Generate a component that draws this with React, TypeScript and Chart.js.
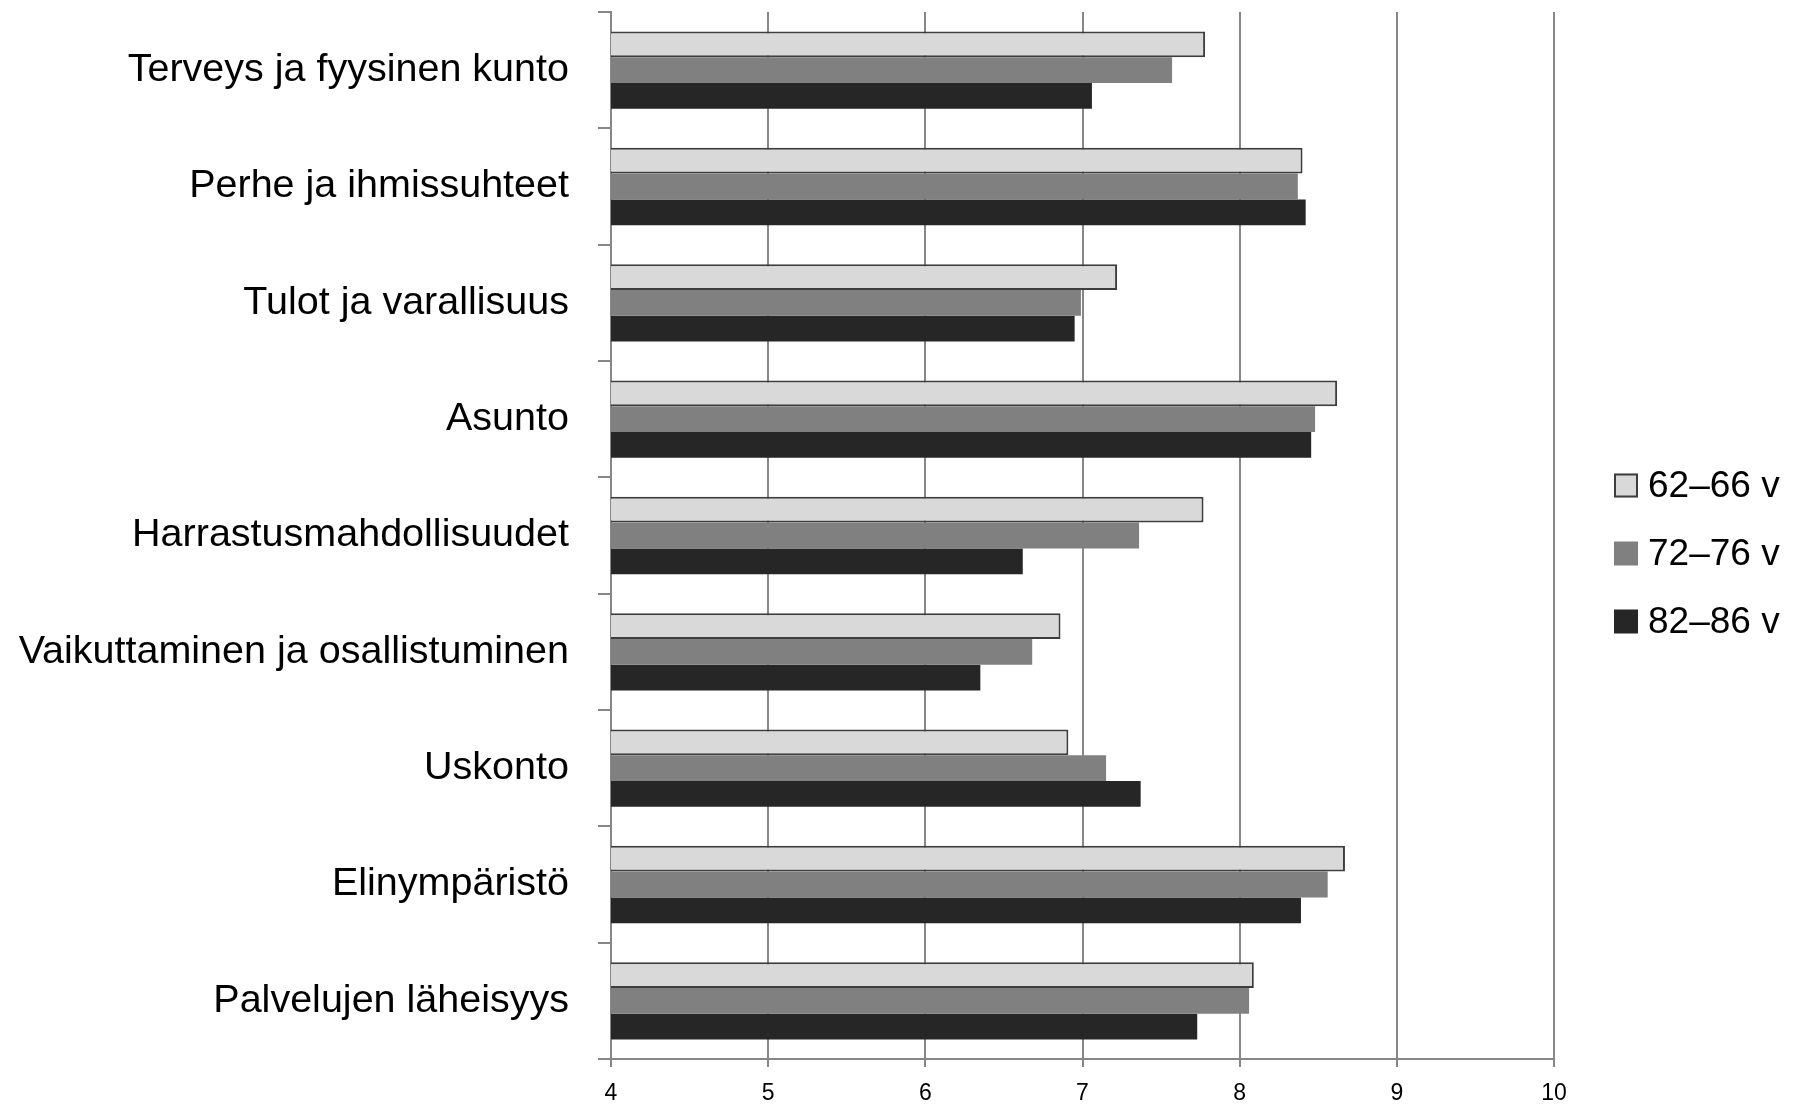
import React, { useEffect, useRef } from "react";
import { Chart, registerables } from "chart.js";

Chart.register(...registerables);

const categories = [
  "Terveys ja fyysinen kunto",
  "Perhe ja ihmissuhteet",
  "Tulot ja varallisuus",
  "Asunto",
  "Harrastusmahdollisuudet",
  "Vaikuttaminen ja osallistuminen",
  "Uskonto",
  "Elinympäristö",
  "Palvelujen läheisyys",
];

const seriesLabels = ["62–66 v", "72–76 v", "82–86 v"];

const values6266 = [7.78, 8.4, 7.22, 8.62, 7.77, 6.86, 6.91, 8.67, 8.09];
const values7276 = [7.57, 8.37, 6.99, 8.48, 7.36, 6.68, 7.15, 8.56, 8.06];
const values8286 = [7.06, 8.42, 6.95, 8.455, 6.62, 6.35, 7.37, 8.39, 7.73];

const xTicks = [4, 5, 6, 7, 8, 9, 10];

const GRID = "#878787";
const FONT = "'Liberation Sans', Arial, sans-serif";

const legendPlugin = {
  id: "customLegend",
  afterDraw(chart: any) {
    const { ctx, chartArea } = chart;
    const midY = (chartArea.top + chartArea.bottom) / 2 + 18;
    const step = 68;
    const boxX = chartArea.right + 60;
    const box = 24;
    ctx.save();
    chart.data.datasets.forEach((ds: any, i: number) => {
      const cy = midY + (i - 1) * step;
      ctx.fillStyle = ds.backgroundColor;
      ctx.fillRect(boxX, cy - box / 2, box, box);
      if (ds.borderWidth) {
        ctx.strokeStyle = ds.borderColor;
        ctx.lineWidth = 2;
        ctx.strokeRect(boxX + 1, cy - box / 2 + 1, box - 2, box - 2);
      }
      ctx.fillStyle = "#000";
      ctx.font = `37px ${FONT}`;
      ctx.textAlign = "left";
      ctx.textBaseline = "middle";
      ctx.fillText(ds.label, boxX + box + 10, cy + 1);
    });
    ctx.restore();
  },
};

export default function App() {
  const ref = useRef<HTMLCanvasElement | null>(null);

  useEffect(() => {
    document.body.style.margin = "0";
    const canvas = ref.current;
    if (!canvas) return;
    const chart = new Chart(canvas, {
      type: "bar",
      data: {
        labels: categories,
        datasets: [
          {
            label: seriesLabels[0],
            data: values6266,
            backgroundColor: "#d9d9d9",
            borderColor: "#3d3d3d",
            borderWidth: 2,
            borderSkipped: false,
          },
          {
            label: seriesLabels[1],
            data: values7276,
            backgroundColor: "#808080",
            borderWidth: 0,
          },
          {
            label: seriesLabels[2],
            data: values8286,
            backgroundColor: "#262626",
            borderWidth: 0,
          },
        ],
      },
      options: {
        indexAxis: "y",
        responsive: false,
        animation: false,
        events: [],
        layout: { padding: { top: 12, right: 239, left: 0, bottom: 0 } },
        datasets: {
          bar: { categoryPercentage: 0.665, barPercentage: 1 },
        },
        plugins: {
          legend: { display: false },
          tooltip: { enabled: false },
          title: { display: false },
        },
        scales: {
          x: {
            type: "linear",
            position: "bottom",
            min: xTicks[0],
            max: xTicks[xTicks.length - 1],
            afterBuildTicks: (s: any) => {
              s.ticks = xTicks.map((v) => ({ value: v }));
            },
            afterFit: (s: any) => {
              s.height = 48;
              s.paddingLeft = 0;
              s.paddingRight = 0;
            },
            grid: {
              color: GRID,
              lineWidth: 2,
              drawOnChartArea: true,
              drawTicks: true,
              tickLength: 8,
            },
            border: { display: true, color: GRID, width: 2 },
            ticks: {
              color: "#000",
              font: { family: FONT, size: 23 },
              padding: 13,
              maxRotation: 0,
            },
          },
          y: {
            type: "category",
            position: "left",
            afterFit: (s: any) => {
              s.width = 611;
              s.paddingTop = 0;
              s.paddingBottom = 0;
            },
            grid: {
              offset: true,
              color: GRID,
              lineWidth: 2,
              drawOnChartArea: false,
              drawTicks: true,
              tickLength: 13,
            },
            border: { display: true, color: GRID, width: 2 },
            ticks: {
              color: "#000",
              font: { family: FONT, size: 39.5 },
              padding: 29,
              autoSkip: false,
            },
          },
        },
      },
      plugins: [legendPlugin],
    });
    return () => chart.destroy();
  }, []);

  return (
    <div style={{ width: 1793, height: 1107, background: "#fff" }}>
      <canvas ref={ref} width={1793} height={1107} style={{ display: "block" }} />
    </div>
  );
}
